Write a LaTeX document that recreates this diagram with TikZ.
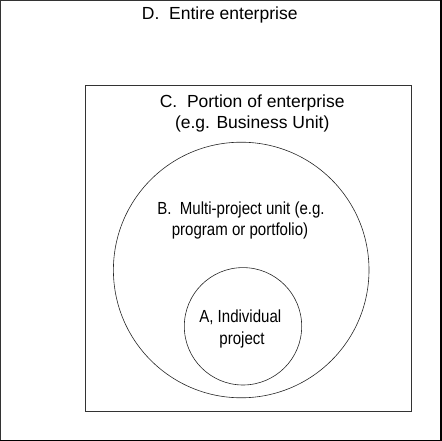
\documentclass[tikz,border=0pt]{standalone}
\usepackage{fontspec}
\setmainfont{Liberation Sans}
\newfontfamily\narrowfont{Liberation Sans}[FakeStretch=0.86]
\begin{document}
\begin{tikzpicture}[x=1pt,y=-1pt,
  lbl/.style={anchor=base,inner sep=0pt,font=\fontsize{17.5}{21}\selectfont},
  nlbl/.style={anchor=base,inner sep=0pt,font=\fontsize{17.5}{21}\selectfont\narrowfont},
  frame/.style={draw=black!80,line width=0.9pt},
  ring/.style={circle,draw=black!85,line width=0.6pt,inner sep=0pt}]
\useasboundingbox (0,0) rectangle (442,441);
% outer frame D
\node[frame,rectangle,inner sep=0pt,minimum width=440pt,minimum height=439.5pt] (D) at (220.5,220.25) {};
\draw[black,line width=1.6pt] (D.north east) -- (D.south east) -- (D.south west);
% inner frame C
\node[frame,rectangle,inner sep=0pt,minimum width=326pt,minimum height=326pt] (C) at (248.5,248.5) {};
% circles
\node[ring,minimum size=255.6pt] (B) at (241.2,270) {};
\node[ring,minimum size=117.4pt] (A) at (243,326.3) {};
% labels
\node[lbl] (d1) at (219.7,19.5) {D.\ \ Entire enterprise};
\node[lbl] (c1) at (252.2,107.3) {C.\ \ Portion of enterprise};
\node[lbl] (c2) at (252.2,128.5) {(e.g. Business Unit)};
\node[nlbl] (b1) at (241,214.3) {B.\ \ Multi-project unit (e.g.};
\node[nlbl] (b2) at (240,235.5) {program or portfolio)};
\node[nlbl] (a1) at (240.3,322.7) {A, Individual};
\node[nlbl] (a2) at (242,344.2) {project};
\end{tikzpicture}
\end{document}
